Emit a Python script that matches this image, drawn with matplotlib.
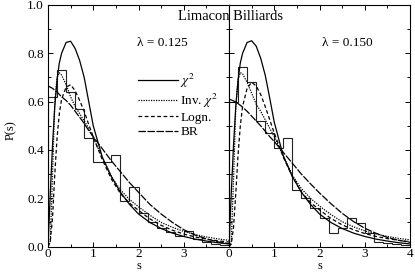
import matplotlib
matplotlib.use("Agg")
import matplotlib.pyplot as plt
from matplotlib.ticker import MultipleLocator

plt.rcParams['font.family'] = ['Liberation Serif', 'DejaVu Serif']
plt.rcParams['mathtext.fontset'] = 'stix'
plt.rcParams['font.size'] = 9

# spacing values s where the curves were read
s = [0, 0.05, 0.1, 0.15, 0.2, 0.25, 0.3, 0.4, 0.5, 0.6, 0.7, 0.8, 0.9, 1.0,
     1.2, 1.4, 1.6, 1.8, 2.0, 2.25, 2.5, 2.75, 3.0, 3.25, 3.5, 3.75, 4.0]

# lambda = 0.125
chi2_125 = [0, 0.22, 0.42, 0.58, 0.69, 0.76, 0.80, 0.845, 0.85, 0.82, 0.77, 0.70, 0.60, 0.50,
            0.37, 0.29, 0.225, 0.175, 0.135, 0.10, 0.075, 0.056, 0.042, 0.031, 0.023, 0.016, 0.011]
invchi2_125 = [0, 0.02, 0.3, 0.6, 0.7, 0.72, 0.71, 0.67, 0.62, 0.58, 0.55, 0.52, 0.49, 0.45,
               0.37, 0.29, 0.235, 0.195, 0.165, 0.13, 0.10, 0.08, 0.063, 0.05, 0.04, 0.032, 0.026]
logn_125 = [0, 0.02, 0.12, 0.3, 0.45, 0.55, 0.61, 0.66, 0.67, 0.645, 0.605, 0.56, 0.505, 0.455,
            0.36, 0.28, 0.22, 0.18, 0.15, 0.115, 0.088, 0.068, 0.052, 0.04, 0.031, 0.024, 0.019]
br_125 = [0.665, 0.66, 0.655, 0.647, 0.64, 0.63, 0.62, 0.605, 0.585, 0.56, 0.535, 0.51, 0.48, 0.455,
          0.405, 0.355, 0.31, 0.265, 0.225, 0.175, 0.135, 0.1, 0.07, 0.048, 0.032, 0.02, 0.012]

# lambda = 0.150
chi2_150 = [0, 0.22, 0.42, 0.58, 0.69, 0.76, 0.80, 0.845, 0.852, 0.83, 0.78, 0.71, 0.615, 0.515,
            0.375, 0.29, 0.225, 0.175, 0.135, 0.10, 0.075, 0.056, 0.042, 0.031, 0.023, 0.016, 0.011]
invchi2_150 = [0, 0.02, 0.28, 0.58, 0.69, 0.72, 0.715, 0.68, 0.635, 0.59, 0.56, 0.525, 0.49, 0.455,
               0.375, 0.295, 0.24, 0.2, 0.168, 0.133, 0.103, 0.082, 0.065, 0.052, 0.042, 0.034, 0.028]
logn_150 = [0, 0.01, 0.08, 0.22, 0.38, 0.5, 0.58, 0.655, 0.68, 0.665, 0.63, 0.58, 0.525, 0.47,
            0.37, 0.29, 0.225, 0.183, 0.152, 0.117, 0.09, 0.07, 0.054, 0.042, 0.033, 0.026, 0.02]
br_150 = [0.61, 0.607, 0.603, 0.598, 0.592, 0.585, 0.577, 0.56, 0.54, 0.52, 0.5, 0.478, 0.455, 0.435,
          0.39, 0.345, 0.3, 0.26, 0.222, 0.178, 0.138, 0.104, 0.076, 0.055, 0.038, 0.026, 0.018]

# histograms
edges = [0, 0.2, 0.4, 0.6, 0.8, 1.0, 1.2, 1.4, 1.6, 1.8, 2.0,
         2.2, 2.4, 2.6, 2.8, 3.0, 3.2, 3.4, 3.6, 3.8, 4.0]
hist_125 = [0.62, 0.73, 0.64, 0.57, 0.45, 0.35, 0.35, 0.38, 0.19, 0.245,
            0.14, 0.10, 0.077, 0.06, 0.045, 0.066, 0.03, 0.02, 0.01, 0.008]
hist_150 = [0.6, 0.745, 0.68, 0.52, 0.47, 0.41, 0.45, 0.234, 0.2, 0.16,
            0.12, 0.055, 0.075, 0.117, 0.096, 0.055, 0.02, 0.015, 0.01, 0.005]

W, H = 415, 273
fig = plt.figure(figsize=(W / 100, H / 100), dpi=100)
axL = fig.add_axes([48 / W, 26.4 / H, 181 / W, 241.6 / H])
axR = fig.add_axes([229 / W, 26.4 / H, 181 / W, 241.6 / H], sharey=axL)

panels = [
    (axL, hist_125, chi2_125, invchi2_125, logn_125, br_125, "λ = 0.125", 0.633),
    (axR, hist_150, chi2_150, invchi2_150, logn_150, br_150, "λ = 0.150", 0.655),
]

for ax, hist, chi2, inv, logn, br, lab, lx in panels:
    ax.stairs(hist, edges, color='#222222', lw=0.8)
    ax.plot(s, chi2, color='black', lw=0.9, ls='-', label=r'$\chi^2$')
    ax.plot(s, inv, color='black', lw=0.9, ls=(0, (1, 1)), label=r'Inv. $\chi^2$')
    ax.plot(s, logn, color='black', lw=0.9, ls=(0, (3, 2)), label='Logn.')
    ax.plot(s, br, color='black', lw=0.9, ls=(0, (6, 1.2)), label='BR')
    ax.text(lx, 0.843, lab, transform=ax.transAxes, ha='center', va='center', fontsize=9.5)
    ax.set_xlim(0, 4)
    ax.set_ylim(0, 1)
    ax.xaxis.set_minor_locator(MultipleLocator(0.5))
    ax.yaxis.set_major_locator(MultipleLocator(0.2))
    ax.yaxis.set_minor_locator(MultipleLocator(0.1))
    ax.tick_params(which='both', direction='in', top=True, right=True, width=0.7)
    ax.tick_params(which='major', length=3.5)
    ax.tick_params(which='minor', length=2)
    ax.tick_params(axis='x', pad=0.8, labelsize=9.5)
    ax.set_xlabel('s', va='center')
    ax.xaxis.set_label_coords(0.5, -0.08)
    for sp in ax.spines.values():
        sp.set_linewidth(0.8)

axL.set_xticks([0, 1, 2, 3])
axR.set_xticks([0, 1, 2, 3, 4])
axL.yaxis.set_major_formatter(plt.FormatStrFormatter('%.1f'))
axL.tick_params(axis='y', pad=3, labelsize=9.5)
axR.tick_params(labelleft=False)

axL.set_ylabel('P(s)', va='center')
axL.yaxis.set_label_coords(-0.205, 0.483)

axL.legend(loc='upper left', bbox_to_anchor=(0.497, 0.724), frameon=False,
           handlelength=3.0, handletextpad=0.2, labelspacing=0.15,
           borderpad=0, borderaxespad=0, fontsize=9.5)

fig.text(230 / W, 1 - 17 / H, 'Limacon Billiards', ha='center', va='center', fontsize=10.5)

fig.savefig('out.png', dpi=100)
